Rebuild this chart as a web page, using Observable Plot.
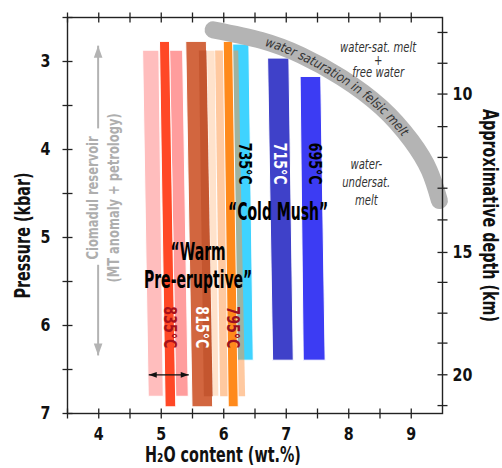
<!DOCTYPE html>
<html>
<head>
<meta charset="utf-8">
<script src="https://cdn.jsdelivr.net/npm/d3@7"></script>
<script src="https://cdn.jsdelivr.net/npm/@observablehq/plot@0.6"></script>
<style>
  html, body { margin: 0; padding: 0; background: #fff; }
</style>
</head>
<body>
<div id="chart"></div>
<script>
const FONT = "'DejaVu Sans Condensed', 'DejaVu Sans', sans-serif";

// Isotherm strips: H2O content (wt.%) of the left/right edge at the shallow
// and at the deep end, and the pressure range (kbar) they cover.
const stripKey   = ["835-a", "835-b", "815-band", "735", "795-band", "835", "815", "815-core", "795", "715", "695"];
const stripTopLo = [4.71, 5.14, 5.61, 6.13, 5.87, 4.98, 5.40, 5.61, 6.00, 6.71, 7.23];
const stripTopHi = [4.97, 5.35, 5.87, 6.41, 6.24, 5.14, 5.73, 5.73, 6.15, 7.05, 7.56];
const stripBotLo = [4.80, 5.24, 5.69, 6.21, 5.95, 5.07, 5.50, 5.69, 6.08, 6.79, 7.28];
const stripBotHi = [5.04, 5.44, 5.93, 6.48, 6.35, 5.24, 5.83, 5.83, 6.24, 7.12, 7.63];
const stripPTop  = [2.88, 2.88, 2.88, 2.81, 2.88, 2.78, 2.78, 2.88, 2.78, 2.97, 3.18];
const stripPBot  = [6.81, 6.81, 6.81, 6.40, 6.81, 6.93, 6.93, 6.81, 6.93, 6.40, 6.40];

// Isotherm labels
const tempLabel = ["835°C", "815°C", "795°C", "735°C", "715°C", "695°C"];
const tempH2O   = [5.13, 5.64, 6.14, 6.33, 6.90, 7.45];
const tempP     = [6.02, 6.02, 6.02, 4.16, 4.16, 4.16];

// Water-saturation curve of a felsic melt (H2O wt.%, kbar)
const satH2O = [5.83, 6.60, 7.24, 7.88, 8.52, 9.00, 9.29, 9.45];
const satP   = [2.64, 2.76, 2.93, 3.18, 3.52, 3.90, 4.24, 4.58];
const satLabel = "water saturation in felsic melt";
const satLabelSpan = [6.68, 8.92];   // H2O wt.% where the curve label starts and ends

// Analytical uncertainty of H2O content
const errH2O = [4.80, 5.44];
const errP = 6.56;

// Ciomadul reservoir extent (MT anomaly + petrology)
const resH2O = 3.99;
const resUpP = [3.76, 2.82];
const resDownP = [5.31, 6.34];
const resLabel = ["Ciomadul reservoir", "(MT anomaly + petrology)"];
const resLabelH2O = [3.90, 4.25];
const resLabelP = 4.55;

// Region and group annotations
const satNote = "water-sat. melt\n+\nfree water";
const satNoteAt = [8.47, 2.99];
const undersatNote = "water-\nundersat.\nmelt";
const undersatNoteAt = [8.28, 4.36];
const groupText = ["\u201CWarm\nPre-eruptive\u201D", "\u201CCold Mush\u201D"];
const groupH2O  = [5.59, 6.87];
const groupP    = [5.31, 4.70];

// Axes
const xTicks = [3.5, 4, 4.5, 5, 5.5, 6, 6.5, 7, 7.5, 8, 8.5, 9];
const xLabels = [4, 5, 6, 7, 8, 9];
const yTicks = [2.5, 3, 3.5, 4, 4.5, 5, 5.5, 6, 6.5, 7];
const yLabels = [3, 4, 5, 6, 7];
// Depth axis (km) placed at its equivalent pressure (kbar)
const depthKm = [10, 15, 20];
const depthAtP = [3.37, 5.17, 6.56];
const depthMinorP = [2.67, 3.02, 3.74, 4.09, 4.44, 4.80, 5.51, 5.86, 6.20, 6.91];

// Styles
const stripFill = {
  "835-a": "#ffbdbd", "835-b": "#ff9d9d", "815-band": "#ffe2cb", "735": "#3fd3ff",
  "795-band": "#ff9442", "835": "#ff4826", "815": "#d2663f", "815-core": "#c4562f",
  "795": "#ff8a1c", "715": "#3f41c9", "695": "#3c3cf3"
};
const tempColor = ["#a8101a", "#ffffff", "#9a1022", "#000000", "#ffffff", "#000000"];

// Horizontal squeeze of each text class (narrow lettering)
const squeeze = {"sq-title": 0.76, "sq-tick": 0.88, "sq-group": 0.65, "sq-temp": 0.8, "sq-res": 0.8, "sq-note": 0.8};

// Strip outlines as two-row series (shallow end, deep end)
const stripRows = stripKey.flatMap((key, i) => [
  {key, p: stripPTop[i], lo: stripTopLo[i], hi: stripTopHi[i]},
  {key, p: stripPBot[i], lo: stripBotLo[i], hi: stripBotHi[i]}
]);

const stripMarks = stripKey.map(key => Plot.areaX(stripRows.filter(d => d.key === key), {
  y: "p", x1: "lo", x2: "hi",
  fill: stripFill[key],
  fillOpacity: key === "795-band" ? 0.5 : 1,
  stroke: key === "795-band" || key === "815-core" ? "none" : "white",
  strokeWidth: 1
}));

// Tick glyphs crossing the frame
const vTick = {draw(ctx, size) { const r = Math.sqrt(size / Math.PI); ctx.moveTo(0, -r); ctx.lineTo(0, r); }};
const hTick = {draw(ctx, size) { const r = Math.sqrt(size / Math.PI); ctx.moveTo(-r, 0); ctx.lineTo(r, 0); }};
// Arrow head with its tip at the origin, pointing up
const head = {draw(ctx, size) { const r = Math.sqrt(size / Math.PI); ctx.moveTo(0, 0); ctx.lineTo(0.72 * r, 2 * r); ctx.lineTo(-0.72 * r, 2 * r); ctx.closePath(); }};

const tickStyle = {stroke: "#222", strokeWidth: 1.3, fill: "none", r: 5};
const labelStyle = {fontFamily: FONT, fontWeight: "bold", fontSize: 18, fill: "#111", className: "sq-tick"};
const titleStyle = {fontFamily: FONT, fontWeight: "bold", fontSize: 21, fill: "#111", className: "sq-title", textAnchor: "middle", lineAnchor: "middle"};
const noteStyle = {fontFamily: FONT, fontStyle: "italic", fontSize: 14, fill: "#333", className: "sq-note"};

const satRows = satH2O.map((h, i) => ({h, p: satP[i]}));

const svg = Plot.plot({
  width: 502,
  height: 468,
  marginLeft: 67,
  marginRight: 60,
  marginTop: 17,
  marginBottom: 55,
  style: {background: "#fff", fontFamily: FONT, overflow: "visible"},
  x: {domain: [3.5, 9.5], axis: null},
  y: {domain: [2.5, 7], reverse: true, axis: null},
  marks: [
    ...stripMarks,

    // isotherm labels
    Plot.text(tempLabel, {x: (d, i) => tempH2O[i], y: (d, i) => tempP[i], rotate: 90,
      fill: (d, i) => tempColor[i], fontFamily: FONT, fontWeight: "bold", fontSize: 17.5, className: "sq-temp"}),

    // group labels
    Plot.text(groupText, {x: (d, i) => groupH2O[i], y: (d, i) => groupP[i],
      fontFamily: FONT, fontWeight: "bold", fontSize: 24, lineHeight: 1.17, fill: "#000", className: "sq-group"}),

    // saturation curve
    Plot.line(satRows, {x: "h", y: "p", curve: "natural", stroke: "#b4b4b4", strokeWidth: 17,
      strokeLinecap: "round", className: "sat-curve"}),

    // region notes
    Plot.text([satNote], {x: satNoteAt[0], y: satNoteAt[1], lineHeight: 0.9, ...noteStyle}),
    Plot.text([undersatNote], {x: undersatNoteAt[0], y: undersatNoteAt[1], lineHeight: 1.3, ...noteStyle}),

    // reservoir arrows and label
    Plot.link([0], {x1: resH2O, x2: resH2O, y1: resUpP[0], y2: resUpP[1], stroke: "#b3b3b3", strokeWidth: 2}),
    Plot.link([0], {x1: resH2O, x2: resH2O, y1: resDownP[0], y2: resDownP[1], stroke: "#b3b3b3", strokeWidth: 2}),
    Plot.dot([resUpP[1], resDownP[1]], {x: () => resH2O, y: d => d, symbol: head, r: 6,
      rotate: (d, i) => i === 0 ? 0 : 180, fill: "#b3b3b3", stroke: "none"}),
    Plot.text(resLabel, {x: (d, i) => resLabelH2O[i], y: resLabelP, rotate: -90,
      fontFamily: FONT, fontWeight: "bold", fontSize: 16, fill: "#aeaeae", className: "sq-res"}),

    // H2O uncertainty
    Plot.link([0], {x1: errH2O[0], x2: errH2O[1], y1: errP, y2: errP, stroke: "#111", strokeWidth: 1.3}),
    Plot.dot(errH2O, {x: d => d, y: errP, symbol: head, r: 4,
      rotate: (d, i) => i === 0 ? -90 : 90, fill: "#111", stroke: "none"}),

    // frame and ticks
    Plot.frame({stroke: "#222", strokeWidth: 1.4}),
    Plot.dot(xTicks, {x: d => d, frameAnchor: "bottom", symbol: vTick, ...tickStyle}),
    Plot.dot(xTicks, {x: d => d, frameAnchor: "top", symbol: vTick, ...tickStyle}),
    Plot.dot(yTicks, {y: d => d, frameAnchor: "left", symbol: hTick, ...tickStyle}),
    Plot.dot([...depthAtP, ...depthMinorP], {y: d => d, frameAnchor: "right", symbol: hTick, ...tickStyle}),

    // tick labels
    Plot.text(xLabels, {x: d => d, text: d => String(d), frameAnchor: "bottom", lineAnchor: "middle", dy: 21, ...labelStyle}),
    Plot.text(yLabels, {y: d => d, text: d => String(d), frameAnchor: "left", textAnchor: "end", dx: -17, ...labelStyle}),
    Plot.text(depthKm, {y: (d, i) => depthAtP[i], text: d => String(d), frameAnchor: "right", textAnchor: "start", dx: 10, ...labelStyle}),

    // axis titles
    Plot.text(["Pressure (kbar)"], {frameAnchor: "left", rotate: -90, dx: -44, dy: 20, ...titleStyle}),
    Plot.text(["H\u2082O content (wt.%)"], {frameAnchor: "bottom", dx: -32, dy: 42, ...titleStyle}),
    Plot.text(["Approximative depth (km)"], {frameAnchor: "right", rotate: 90, dx: 47, ...titleStyle})
  ]
});

document.getElementById("chart").append(svg);

// Narrow the lettering of each text class around its anchor
for (const [cls, sx] of Object.entries(squeeze)) {
  svg.querySelectorAll(`g.${cls} text`).forEach(t => {
    const tr = t.getAttribute("transform");
    if (tr) {
      t.setAttribute("transform", `${tr} scale(${sx},1)`);
    } else {
      const x = t.getAttribute("x") || 0, y = t.getAttribute("y") || 0;
      t.removeAttribute("x");
      t.removeAttribute("y");
      t.setAttribute("transform", `translate(${x},${y}) scale(${sx},1)`);
    }
  });
}

// Curve label set along the saturation curve
const ns = "http://www.w3.org/2000/svg";
const curveG = svg.querySelector("g.sat-curve") || [...svg.querySelectorAll("g")].find(g => g.getAttribute("stroke-width") === "17");
const curvePath = curveG.querySelector("path");
curvePath.setAttribute("id", "sat-path");
const xScale = svg.scale("x");
const total = curvePath.getTotalLength();
const lengthAtX = px => {
  for (let s = 0; s <= total; s += 0.5) if (curvePath.getPointAtLength(s).x >= px) return s;
  return total;
};
const s0 = lengthAtX(xScale.apply(satLabelSpan[0]));
const s1 = lengthAtX(xScale.apply(satLabelSpan[1]));
const label = document.createElementNS(ns, "text");
label.setAttribute("font-family", FONT);
label.setAttribute("font-style", "italic");
label.setAttribute("font-size", "13");
label.setAttribute("fill", "#333");
label.setAttribute("text-anchor", "start");
label.setAttribute("dy", "0.35em");
const tp = document.createElementNS(ns, "textPath");
tp.setAttribute("href", "#sat-path");
tp.setAttribute("startOffset", s0);
tp.setAttribute("textLength", s1 - s0);
tp.setAttribute("lengthAdjust", "spacingAndGlyphs");
tp.textContent = satLabel;
label.append(tp);
curveG.parentNode.insertBefore(label, curveG.nextSibling);
</script>
</body>
</html>
